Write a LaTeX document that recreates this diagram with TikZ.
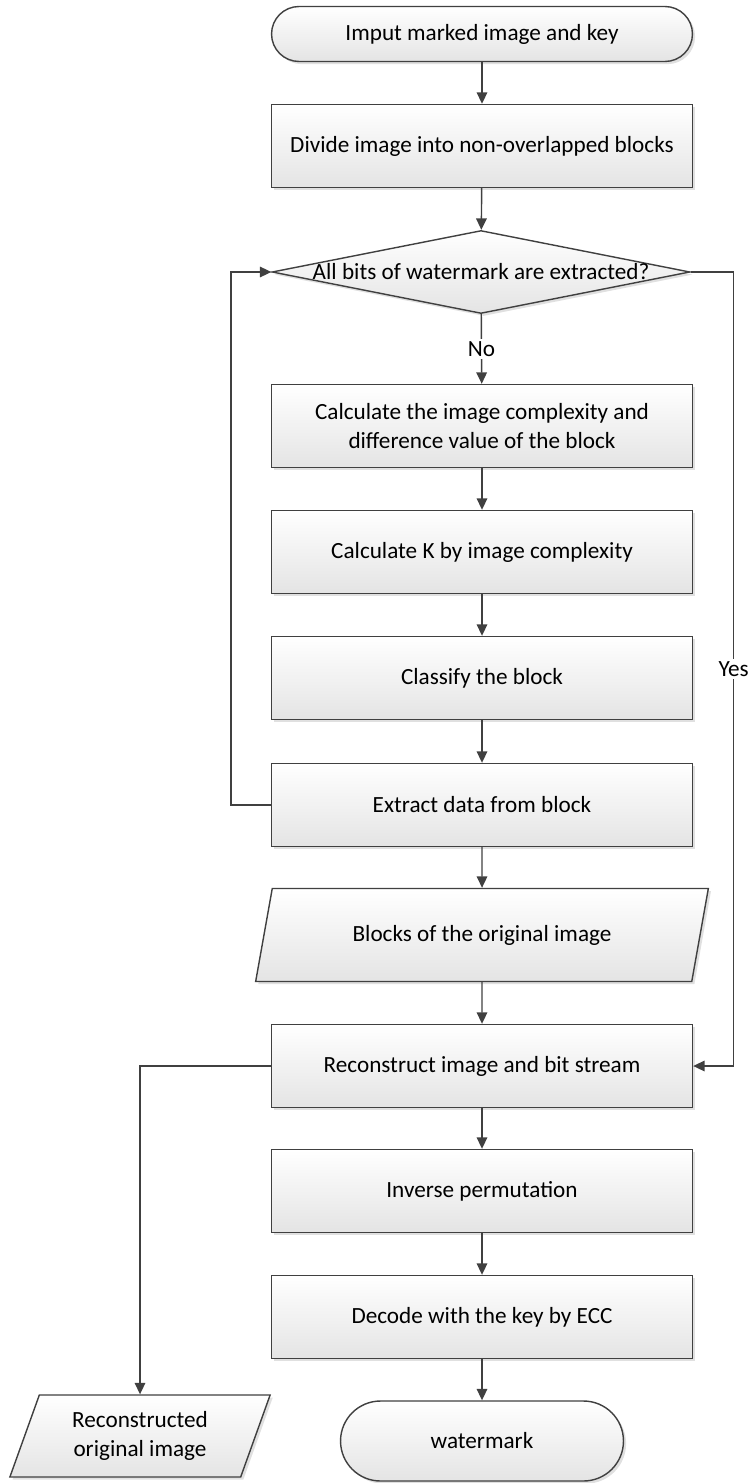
\documentclass[tikz,border=0pt]{standalone}
\usepackage{fontspec}
\setmainfont{Carlito}
\usetikzlibrary{arrows.meta,shapes.geometric,shadows}
\definecolor{fcline}{RGB}{64,64,64}
\definecolor{fcshade}{RGB}{228,228,228}

\begin{document}
\begin{tikzpicture}[x=0.02cm,y=-0.02cm,
  font=\fontsize{13.2}{16.5}\selectfont,
  flowshape/.style={draw=fcline,line width=0.8pt,top color=white,bottom color=fcshade,
    drop shadow={shadow xshift=1.5pt,shadow yshift=-1.5pt,fill=black,opacity=0.12}},
  procbox/.style={flowshape,rectangle,minimum width=8.42cm,minimum height=1.66cm,align=center},
  termbox/.style={flowshape,rectangle,align=center},
  decision/.style={flowshape,diamond,minimum width=8.36cm,minimum height=1.66cm,inner sep=0pt},
  iobox/.style={flowshape,trapezium,trapezium stretches=true,align=center,inner sep=0pt},
  flowline/.style={fcline,line width=0.8pt,-{Triangle[length=6.5pt,width=6pt]}},
  flowlabel/.style={fill=white,text=black,inner sep=1.5pt}]
  \useasboundingbox (0,0) rectangle (752,1483);

  \node[termbox,minimum width=8.42cm,minimum height=1.1cm,rounded corners=0.55cm] (start) at (482,34) {Imput marked image and key};
  \node[procbox] (divide) at (482,146) {Divide image into non-overlapped blocks};
  \node[decision] (check) at (481,272) {\makebox[0pt]{All bits of watermark are extracted?}};
  \node[procbox] (calcdiff) at (482,426) {Calculate the image complexity and\\difference value of the block};
  \node[procbox] (calck) at (482,552) {Calculate K by image complexity};
  \node[procbox] (classify) at (482,678) {Classify the block};
  \node[procbox] (extract) at (482,805) {Extract data from block};
  \node[iobox,trapezium left angle=63,trapezium right angle=117,minimum width=9.06cm,minimum height=1.86cm] (blocks) at (482,935) {Blocks of the original image};
  \node[procbox] (recon) at (482,1066) {Reconstruct image and bit stream};
  \node[procbox] (inverse) at (482,1191) {Inverse permutation};
  \node[procbox] (decode) at (482,1317) {Decode with the key by ECC};
  \node[termbox,minimum width=5.66cm,minimum height=1.6cm,rounded corners=0.8cm] (mark) at (482,1441) {watermark};
  \node[iobox,trapezium left angle=68,trapezium right angle=112,minimum width=5.22cm,minimum height=1.64cm] (origimg) at (140,1436) {Reconstructed\\original image};

  \draw[flowline] (start) -- (divide);
  \draw[flowline] (divide) -- (check);
  \draw[flowline] (check) -- node[flowlabel] {No} (calcdiff);
  \draw[flowline] (calcdiff) -- (calck);
  \draw[flowline] (calck) -- (classify);
  \draw[flowline] (classify) -- (extract);
  \draw[flowline] (extract) -- (blocks);
  \draw[flowline] (blocks) -- (recon);
  \draw[flowline] (recon) -- (inverse);
  \draw[flowline] (inverse) -- (decode);
  \draw[flowline] (decode) -- (mark);
  \draw[flowline] (extract.west) -- ++(-40,0) |- (check.west);
  \draw[flowline] (check.east) -- ++(43,0) |- node[flowlabel,pos=0.25] {Yes} (recon.east);
  \draw[flowline] (recon.west) -| (origimg);
\end{tikzpicture}
\end{document}
